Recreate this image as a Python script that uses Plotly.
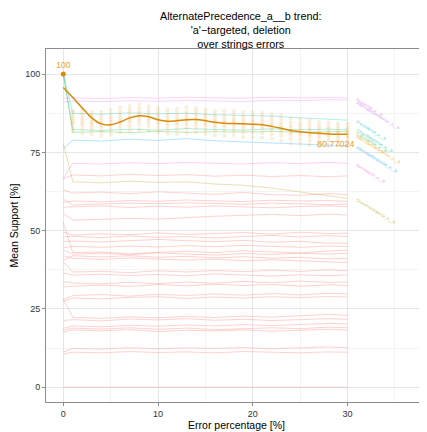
import plotly.graph_objects as go

# ---------------- data ----------------
title_lines = ["AlternatePrecedence_a__b trend:", "'a'\u2212targeted, deletion", "over strings errors"]
x_title = "Error percentage [%]"
y_title = "Mean Support [%]"
x_ticks = [0, 10, 20, 30]
y_ticks = [0, 25, 50, 75, 100]

# background (non-highlighted) constraint trends
bg_x = [0, 1, 4, 7, 10, 13, 16, 19, 22, 25, 28, 30]
bg_lines = [
    [66.5, 67.8, 67.5, 68.0, 67.6, 67.9, 67.4, 67.7, 67.3, 67.6, 67.2, 67.5],
    [63.0, 62.0, 62.3, 61.8, 62.4, 62.0, 61.6, 62.2, 61.5, 61.3, 61.8, 61.5],
    [59.0, 59.5, 59.2, 59.6, 59.4, 59.8, 59.5, 59.3, 59.7, 59.5, 59.6, 59.4],
    [60.0, 58.2, 58.5, 58.8, 58.6, 58.9, 58.7, 58.4, 58.8, 58.6, 58.3, 58.5],
    [57.5, 57.6, 57.9, 57.4, 57.8, 57.5, 57.9, 57.6, 57.3, 57.7, 57.9, 57.7],
    [55.5, 53.4, 53.6, 53.9, 53.7, 54.2, 54.6, 54.9, 55.2, 54.8, 55.3, 55.0],
    [52.6, 43.0, 43.2, 42.6, 43.1, 43.4, 43.0, 43.6, 43.2, 42.9, 43.5, 43.8],
    [49.5, 48.6, 49.0, 48.7, 49.3, 48.8, 49.1, 49.4, 48.9, 49.5, 49.1, 49.2],
    [48.0, 48.2, 47.8, 48.3, 47.9, 48.1, 47.7, 48.2, 48.5, 48.0, 48.4, 48.1],
    [46.5, 46.7, 46.4, 46.9, 47.2, 46.8, 46.5, 46.9, 46.3, 46.6, 46.0, 46.0],
    [44.5, 45.0, 44.7, 45.1, 44.8, 45.2, 44.9, 45.3, 45.0, 44.7, 45.1, 44.9],
    [43.8, 42.5, 42.8, 42.3, 42.9, 42.6, 42.2, 42.7, 42.4, 42.8, 42.5, 42.8],
    [40.5, 42.0, 41.6, 42.0, 41.5, 41.8, 41.3, 41.7, 41.2, 41.5, 41.0, 41.2],
    [42.0, 41.2, 40.8, 41.3, 40.9, 40.6, 40.9, 40.4, 40.7, 40.3, 40.0, 39.8],
    [40.0, 36.8, 37.0, 36.6, 37.2, 36.8, 37.3, 36.9, 37.4, 37.0, 37.5, 37.2],
    [36.5, 35.8, 36.1, 35.7, 36.0, 35.6, 36.2, 35.8, 35.5, 35.9, 35.6, 35.9],
    [33.8, 33.3, 33.0, 33.5, 33.1, 33.6, 33.2, 33.8, 33.4, 33.9, 33.5, 33.6],
    [32.0, 32.3, 32.6, 32.2, 32.8, 32.4, 32.9, 32.5, 32.8, 32.3, 32.7, 32.5],
    [28.0, 29.3, 29.6, 29.1, 29.7, 29.3, 29.8, 29.4, 29.9, 29.5, 30.0, 29.8],
    [27.5, 28.5, 28.2, 28.7, 28.9, 28.4, 28.8, 28.5, 28.9, 28.6, 29.0, 28.8],
    [28.0, 22.3, 22.0, 22.5, 22.2, 22.6, 22.3, 22.7, 22.4, 22.8, 23.3, 23.0],
    [21.3, 21.6, 21.2, 21.8, 21.5, 21.9, 21.4, 21.7, 21.3, 21.6, 21.9, 21.7],
    [18.8, 19.6, 19.3, 19.8, 19.5, 19.9, 19.6, 20.0, 19.7, 20.1, 20.4, 20.2],
    [18.2, 18.9, 18.6, 19.0, 18.5, 18.9, 18.4, 18.8, 19.0, 18.7, 19.2, 19.0],
    [17.6, 18.3, 18.0, 18.4, 17.8, 18.2, 18.0, 18.3, 17.9, 18.2, 18.5, 18.3],
    [11.3, 12.4, 12.2, 12.6, 12.3, 12.6, 12.4, 12.7, 12.3, 12.6, 12.9, 12.6],
    [10.6, 11.2, 11.0, 11.4, 11.1, 11.3, 11.0, 11.4, 11.2, 11.0, 11.3, 11.2],
    [0.0, 0.0, 0.0, 0.0, 0.0, 0.0, 0.0, 0.0, 0.0, 0.0, 0.0, 0.0],
]

# highlighted constraint trends (with labels)
hl_names = ["Response_a__b", "AlternateSuccession_a__b", "Precedence_a__b",
            "ChainResponse_a__b", "CoExistence_a__b", "AlternatePrecedence_a__b",
            "AlternateResponse_a__b", "Succession_a__b", "ChainPrecedence_a__b"]
hl_colors = ["#FF6BC8", "#C77CFF", "#00BFC4", "#00C19A", "#39B600",
             "#E69F00", "#00A9FF", "#F564E3", "#B79F00"]
hl_lines = [
    [92.3, 92.4, 92.2, 92.5, 92.3, 92.6, 92.4, 92.3, 92.6, 92.4, 92.5, 92.4],
    [91.0, 91.4, 91.2, 91.5, 91.3, 91.6, 91.4, 91.2, 91.6, 91.5, 91.8, 91.7],
    [100.0, 87.4, 87.2, 87.6, 87.3, 87.5, 87.0, 86.8, 86.6, 86.0, 85.6, 85.3],
    [100.0, 82.3, 82.0, 82.4, 82.1, 82.6, 82.3, 82.1, 82.5, 82.2, 82.4, 82.2],
    [100.0, 81.4, 81.6, 81.3, 81.7, 81.4, 81.6, 81.5, 81.7, 81.4, 81.6, 81.6],
    None,
    [76.3, 78.9, 78.6, 79.2, 78.8, 79.4, 78.7, 78.3, 78.0, 77.6, 77.3, 77.1],
    [66.7, 71.5, 71.3, 71.7, 71.4, 71.8, 71.5, 71.3, 71.7, 71.4, 71.8, 71.5],
    [77.9, 65.6, 65.3, 65.8, 65.4, 65.6, 64.9, 64.5, 63.6, 62.4, 61.0, 60.3],
]

# main constraint: per-error-level support values (jittered strips)
main_x = list(range(1, 31))
main_points = [
    [81.6, 82.7, 83.8, 84.5, 85.1, 85.8, 86.6, 87.5, 88.3],
    [81.0, 82.4, 83.6, 84.4, 85.2, 86.0, 86.9, 87.8, 88.9],
    [80.9, 82.2, 83.3, 84.1, 84.7, 85.4, 86.3, 87.1, 88.0],
    [80.3, 81.6, 82.8, 83.6, 84.3, 85.0, 85.9, 86.8, 87.9],
    [80.7, 82.1, 83.2, 84.0, 84.8, 85.6, 86.4, 87.5, 88.6],
    [81.4, 82.9, 84.0, 84.9, 85.6, 86.4, 87.3, 88.2, 89.3],
    [82.0, 83.3, 84.5, 85.3, 86.0, 86.8, 87.7, 88.7, 89.8],
    [82.3, 83.8, 84.9, 85.8, 86.5, 87.3, 88.1, 89.2, 90.4],
    [81.9, 83.3, 84.4, 85.2, 86.0, 86.8, 87.6, 88.6, 89.7],
    [81.4, 82.8, 84.0, 84.8, 85.5, 86.2, 87.1, 88.1, 89.2],
    [81.0, 82.4, 83.5, 84.3, 85.0, 85.8, 86.6, 87.6, 88.6],
    [80.8, 82.3, 83.5, 84.3, 85.1, 85.8, 86.7, 87.7, 88.9],
    [81.3, 82.7, 83.9, 84.7, 85.4, 86.2, 87.0, 88.0, 89.3],
    [81.4, 82.8, 83.9, 84.8, 85.5, 86.3, 87.2, 88.2, 89.1],
    [80.9, 82.3, 83.5, 84.3, 85.0, 85.7, 86.6, 87.5, 88.6],
    [80.5, 81.9, 83.0, 83.8, 84.5, 85.3, 86.1, 87.1, 88.2],
    [80.3, 81.8, 83.0, 83.8, 84.5, 85.2, 86.1, 87.2, 88.4],
    [80.6, 82.0, 83.1, 83.9, 84.6, 85.4, 86.2, 87.2, 88.2],
    [79.9, 81.4, 82.6, 83.4, 84.1, 84.9, 85.7, 86.7, 87.9],
    [79.8, 81.3, 82.5, 83.3, 84.0, 84.8, 85.6, 86.7, 87.8],
    [79.7, 81.2, 82.5, 83.3, 84.0, 84.7, 85.6, 86.6, 87.6],
    [79.4, 80.8, 82.0, 82.8, 83.5, 84.2, 85.1, 86.1, 87.2],
    [78.7, 80.2, 81.4, 82.3, 83.0, 83.8, 84.7, 85.7, 86.9],
    [77.8, 79.3, 80.5, 81.3, 82.0, 82.8, 83.6, 84.6, 85.8],
    [77.9, 79.3, 80.5, 81.3, 82.0, 82.7, 83.6, 84.5, 85.7],
    [77.4, 78.8, 80.0, 80.8, 81.5, 82.2, 83.1, 84.1, 85.2],
    [76.9, 78.3, 79.5, 80.3, 81.0, 81.7, 82.6, 83.6, 84.7],
    [77.2, 78.5, 79.6, 80.4, 81.0, 81.7, 82.5, 83.4, 84.5],
    [77.3, 78.6, 79.7, 80.4, 81.0, 81.6, 82.4, 83.3, 84.3],
    [77.5, 78.7, 79.8, 80.4, 81.0, 81.6, 82.3, 83.1, 84.2],
]
main_start = 100
main_end_label = "80.77024"

# loess-style smooth of main constraint
smooth_x = list(range(0, 31))
smooth_y = [95.7, 92.5, 89.2, 86.0, 84.1, 83.8, 84.7, 86.0, 86.7, 86.4, 85.4, 84.9,
            85.1, 85.4, 85.5, 85.1, 84.6, 84.3, 84.2, 84.1, 84.0, 83.8, 83.3, 82.7,
            82.0, 81.6, 81.3, 81.1, 80.9, 80.8, 80.77]

# label anchor values for the highlighted trends
label_vals = [92.6, 91.6, 85.6, 83.0, 82.0, 81.0, 77.4, 71.8, 60.6]

# ---------------- figure ----------------
fig = go.Figure()

for ys in bg_lines:
    fig.add_trace(go.Scatter(x=bg_x, y=ys, mode="lines",
                             line=dict(color="rgba(248,118,109,0.33)", width=1),
                             hoverinfo="skip", showlegend=False))

def rgba(hexc, a):
    h = hexc.lstrip("#")
    return "rgba(%d,%d,%d,%.2f)" % (int(h[0:2], 16), int(h[2:4], 16), int(h[4:6], 16), a)

for name, col, ys in zip(hl_names, hl_colors, hl_lines):
    if ys is None:
        continue
    fig.add_trace(go.Scatter(x=bg_x, y=ys, mode="lines",
                             line=dict(color=rgba(col, 0.3), width=1),
                             hoverinfo="skip", showlegend=False))

# jittered strips
px, py = [], []
for xv, vals in zip(main_x, main_points):
    for v in vals:
        px.append(xv)
        py.append(v)
fig.add_trace(go.Scatter(x=px, y=py, mode="markers",
                         marker=dict(color="rgba(235,170,70,0.2)", size=4, line=dict(width=0)),
                         hoverinfo="skip", showlegend=False))

fig.add_trace(go.Scatter(x=smooth_x, y=smooth_y, mode="lines", line_shape="spline",
                         line=dict(color="#D98A0A", width=1.5),
                         hoverinfo="skip", showlegend=False))

fig.add_trace(go.Scatter(x=[0], y=[main_start], mode="markers+text",
                         marker=dict(color="#D98A0A", size=5),
                         text=[str(main_start)], textposition="top center",
                         textfont=dict(color="#E8A23A", size=8.5, family="Liberation Sans"),
                         hoverinfo="skip", showlegend=False))

fig.add_annotation(x=28.8, y=77.7, text=main_end_label, showarrow=False,
                   font=dict(color="#E8A23A", size=9, family="Liberation Sans"))

for name, col, v in zip(hl_names, hl_colors, label_vals):
    fig.add_annotation(x=30.55, y=v + 0.8, text=name, showarrow=False,
                       textangle=31, xanchor="left", yanchor="top",
                       font=dict(color=rgba(col, 0.75), size=4.2, family="Liberation Sans"))

# title as a multi-line annotation (page has an 8px body margin)
fig.add_annotation(xref="paper", yref="paper", x=0.51, y=1 + 41 / 353.0,
                   xanchor="center", yanchor="top", showarrow=False,
                   text="<br>".join(title_lines),
                   font=dict(size=10.8, color="black", family="Liberation Sans"))

fig.update_layout(
    width=419, height=424,
    margin=dict(l=38, r=0, t=41, b=30),
    paper_bgcolor="white", plot_bgcolor="white",
    font=dict(family="Liberation Sans", color="black"),
    showlegend=False,
)
fig.update_xaxes(range=[-1.83, 38.4], tickvals=x_ticks, ticktext=[str(t) for t in x_ticks],
                 showgrid=True, gridcolor="#E6E6E6", gridwidth=1,
                 minor=dict(dtick=5, tick0=5, showgrid=True, gridcolor="#F4F4F4", gridwidth=1),
                 zeroline=False, showline=True, linecolor="#8C8C8C", linewidth=1, mirror=True,
                 ticks="outside", ticklen=3, tickcolor="#8C8C8C",
                 tickfont=dict(size=9, color="#333333"),
                 title=dict(text=x_title, font=dict(size=10.5), standoff=1))
fig.update_yaxes(range=[-4.7, 108], tickvals=y_ticks, ticktext=[str(t) for t in y_ticks],
                 showgrid=True, gridcolor="#E6E6E6", gridwidth=1,
                 minor=dict(dtick=12.5, tick0=12.5, showgrid=True, gridcolor="#F4F4F4", gridwidth=1),
                 zeroline=False, showline=True, linecolor="#8C8C8C", linewidth=1,
                 ticks="outside", ticklen=3, tickcolor="#8C8C8C",
                 tickfont=dict(size=9, color="#333333"),
                 title=dict(text=y_title, font=dict(size=10.5), standoff=6))

fig.write_html("out.html")
